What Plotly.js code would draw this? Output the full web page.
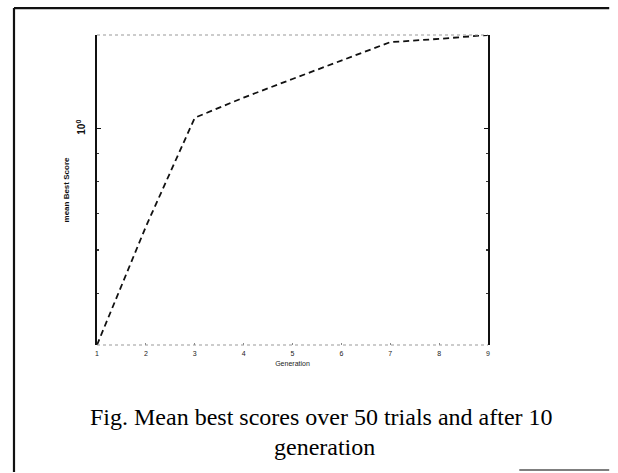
<!DOCTYPE html>
<html>
<head>
<meta charset="utf-8">
<script src="https://cdn.plot.ly/plotly-3.0.1.min.js"></script>
<style>
html,body{margin:0;padding:0;background:#fff;}
#chart{width:618px;height:473px;}
</style>
</head>
<body>
<div id="chart"></div>
<script>
// Data
const generations = [1, 2, 3, 4, 5, 6, 7, 8, 9];
const meanBestScore = [0.402, 0.662, 1.047, 1.14, 1.233, 1.333, 1.44, 1.46, 1.484];
const xTickLabels = ['1', '2', '3', '4', '5', '6', '7', '8', '9'];
const yMajorTicks = [1];
const yMajorLabels = ['10<sup>0</sup>'];
const yMinorTicks = [0.5, 0.6, 0.7, 0.8, 0.9];
const captionLine1 = 'Fig. Mean best scores over 50 trials and after 10';
const captionLine2 = 'generation';

const trace = {
  x: generations,
  y: meanBestScore,
  type: 'scatter',
  mode: 'lines',
  line: {color: '#111', width: 1.8, dash: '6px,4px'},
  hoverinfo: 'skip'
};

const layout = {
  width: 618,
  height: 473,
  paper_bgcolor: '#fff',
  plot_bgcolor: '#fff',
  margin: {l: 97, r: 130, t: 35, b: 128, pad: 0},
  showlegend: false,
  font: {family: 'Liberation Sans, Arial, sans-serif', color: '#111'},
  xaxis: {
    range: [1, 9],
    tickvals: generations,
    ticktext: xTickLabels,
    ticks: 'inside',
    ticklen: 2,
    tickcolor: '#888',
    ticklabelstandoff: 3,
    showline: false,
    showgrid: false,
    zeroline: false,
    tickfont: {size: 7, color: '#222'},
    title: {text: 'Generation', font: {size: 7, color: '#222'}, standoff: 5}
  },
  yaxis: {
    type: 'log',
    range: [Math.log10(0.402), Math.log10(1.484)],
    tickvals: yMajorTicks,
    ticktext: yMajorLabels,
    tickangle: -90,
    ticks: 'inside',
    ticklen: 4,
    tickwidth: 1.2,
    tickcolor: '#111',
    ticklabelstandoff: 6,
    showline: true,
    linecolor: '#111',
    linewidth: 1.8,
    mirror: 'ticks',
    showgrid: false,
    zeroline: false,
    tickfont: {size: 10, color: '#111', weight: 'bold'},
    minor: {tickvals: yMinorTicks, ticks: 'inside', ticklen: 2, tickcolor: '#333', showgrid: false},
    title: {text: '<b>mean Best Score</b>', font: {size: 8, color: '#111'}, standoff: 4}
  },
  shapes: [
    // dotted top and bottom frame of plot area
    {type: 'line', xref: 'paper', yref: 'paper', x0: 0, x1: 1, y0: 1, y1: 1,
     line: {color: '#999', width: 1, dash: 'dot'}},
    {type: 'line', xref: 'paper', yref: 'paper', x0: 0, x1: 1, y0: 0, y1: 0,
     line: {color: '#999', width: 1, dash: 'dot'}},
    // outer figure frame
    {type: 'line', xref: 'paper', yref: 'paper', x0: -0.2123, x1: -0.2123, y0: -0.41, y1: 1.087,
     line: {color: '#111', width: 2.2}},
    {type: 'line', xref: 'paper', yref: 'paper', x0: -0.2123, x1: 1.31, y0: 1.087, y1: 1.087,
     line: {color: '#111', width: 2.2}},
    {type: 'line', xref: 'paper', yref: 'paper', x0: 1.08, x1: 1.31, y0: -0.403, y1: -0.403,
     line: {color: '#555', width: 1.5}}
  ],
  annotations: [
    {text: captionLine1, xref: 'paper', yref: 'paper', x: 0.5754, y: -0.232,
     xanchor: 'center', yanchor: 'middle', showarrow: false,
     font: {family: 'Liberation Serif, Times New Roman, serif', size: 24, color: '#000'}},
    {text: captionLine2, xref: 'paper', yref: 'paper', x: 0.5806, y: -0.329,
     xanchor: 'center', yanchor: 'middle', showarrow: false,
     font: {family: 'Liberation Serif, Times New Roman, serif', size: 24, color: '#000'}}
  ]
};

Plotly.newPlot('chart', [trace], layout, {displayModeBar: false, staticPlot: true});
</script>
</body>
</html>
